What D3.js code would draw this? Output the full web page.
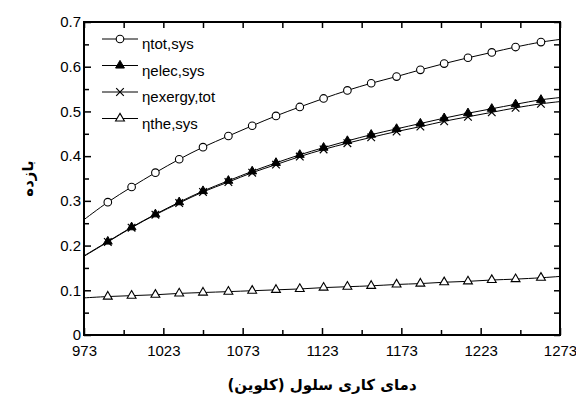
<!DOCTYPE html>
<html>
<head>
<meta charset="utf-8">
<script src="https://cdn.jsdelivr.net/npm/d3@7"></script>
<style>
  html, body { margin: 0; padding: 0; background: #fff; }
  svg { display: block; }
  .tick text { font-family: "Liberation Sans", Arial, sans-serif; }
</style>
</head>
<body>
<svg id="chart" width="576" height="399"></svg>
<script>
// Cell operating temperature (K): curve ends plus the marked sample points
const temps = [973, 988, 1003, 1018, 1033, 1048, 1064, 1079, 1094, 1109, 1124,
               1139, 1154, 1170, 1185, 1200, 1215, 1230, 1245, 1261, 1273];

// Efficiencies
const etaTot    = [0.258, 0.297, 0.331, 0.363, 0.393, 0.420, 0.445, 0.468, 0.490, 0.510, 0.529,
                   0.547, 0.563, 0.578, 0.593, 0.607, 0.620, 0.632, 0.644, 0.655, 0.661];
const etaElec   = [0.177, 0.209, 0.241, 0.270, 0.297, 0.322, 0.345, 0.366, 0.385, 0.403, 0.419,
                   0.434, 0.448, 0.461, 0.473, 0.485, 0.496, 0.506, 0.516, 0.526, 0.531];
const etaExergy = [0.176, 0.208, 0.240, 0.269, 0.295, 0.320, 0.342, 0.363, 0.381, 0.399, 0.415,
                   0.429, 0.442, 0.455, 0.466, 0.478, 0.488, 0.498, 0.508, 0.517, 0.522];
const etaThe    = [0.083, 0.086, 0.088, 0.090, 0.093, 0.095, 0.097, 0.099, 0.101, 0.103, 0.106,
                   0.108, 0.110, 0.113, 0.115, 0.118, 0.120, 0.123, 0.125, 0.128, 0.131];

const xTicks = [973, 1023, 1073, 1123, 1173, 1223, 1273];
const xMinorTicks = [998, 1048, 1098, 1148, 1198, 1248];
const yTicks = [0, 0.1, 0.2, 0.3, 0.4, 0.5, 0.6, 0.7];
const yMinorTicks = [0.05, 0.15, 0.25, 0.35, 0.45, 0.55, 0.65];

const seriesNames = ["ηtot,sys", "ηelec,sys", "ηexergy,tot", "ηthe,sys"];
const seriesValues = [etaTot, etaElec, etaExergy, etaThe];
const seriesMarkers = ["circle", "triangleFilled", "cross", "triangleOpen"];

const xTitle = "دمای کاری سلول (کلوین)";
const yTitle = "بازده";

const svg = d3.select("#chart");
const plotLeft = 84, plotRight = 560, plotTop = 22, plotBottom = 335;

const x = d3.scaleLinear().domain([973, 1273]).range([plotLeft, plotRight]);
const y = d3.scaleLinear().domain([0, 0.7]).range([plotBottom, plotTop]);

const fmtY = d => d === 0 ? "0" : d3.format(".1f")(d);

// Axes: inward ticks on all four sides
function styleAxis(g) {
  g.select(".domain").remove();
  g.selectAll(".tick line").attr("stroke", "#000").attr("stroke-width", 1.5);
  g.selectAll(".tick text").attr("fill", "#000").attr("font-size", 15);
}

svg.append("g").attr("transform", `translate(0,${plotBottom})`)
  .call(d3.axisBottom(x).tickValues(xTicks).tickFormat(d3.format("d")).tickSize(-7).tickPadding(10))
  .call(styleAxis);
svg.append("g").attr("transform", `translate(0,${plotBottom})`)
  .call(d3.axisBottom(x).tickValues(xMinorTicks).tickFormat("").tickSize(-5))
  .call(styleAxis);
svg.append("g").attr("transform", `translate(0,${plotTop})`)
  .call(d3.axisTop(x).tickValues(xTicks.concat(xMinorTicks)).tickFormat("").tickSize(-6))
  .call(styleAxis);

svg.append("g").attr("transform", `translate(${plotLeft},0)`)
  .call(d3.axisLeft(y).tickValues(yTicks).tickFormat(fmtY).tickSize(-7).tickPadding(3))
  .call(styleAxis);
svg.append("g").attr("transform", `translate(${plotLeft},0)`)
  .call(d3.axisLeft(y).tickValues(yMinorTicks).tickFormat("").tickSize(-5))
  .call(styleAxis);
svg.append("g").attr("transform", `translate(${plotRight},0)`)
  .call(d3.axisRight(y).tickValues(yTicks.concat(yMinorTicks)).tickFormat("").tickSize(-6))
  .call(styleAxis);

// Frame
svg.append("rect")
  .attr("x", plotLeft).attr("y", plotTop)
  .attr("width", plotRight - plotLeft).attr("height", plotBottom - plotTop)
  .attr("fill", "none").attr("stroke", "#000").attr("stroke-width", 2);

// Markers
const triUp = d3.symbol().type(d3.symbolTriangle).size(34)();
function drawMarker(g, kind, cx, cy) {
  if (kind === "circle") {
    g.append("circle").attr("cx", cx).attr("cy", cy).attr("r", 3.8)
      .attr("fill", "#fff").attr("stroke", "#000").attr("stroke-width", 1.1);
  } else if (kind === "triangleFilled") {
    g.append("path").attr("d", triUp).attr("transform", `translate(${cx},${cy})`)
      .attr("fill", "#000").attr("stroke", "#000").attr("stroke-width", 1);
  } else if (kind === "triangleOpen") {
    g.append("path").attr("d", triUp).attr("transform", `translate(${cx},${cy})`)
      .attr("fill", "#fff").attr("stroke", "#000").attr("stroke-width", 1.1);
  } else if (kind === "cross") {
    const s = 3.8;
    g.append("path")
      .attr("d", `M${cx - s},${cy - s}L${cx + s},${cy + s}M${cx - s},${cy + s}L${cx + s},${cy - s}`)
      .attr("stroke", "#000").attr("stroke-width", 1.2).attr("fill", "none");
  }
}

const line = d3.line()
  .x(d => x(d[0])).y(d => y(d[1]))
  .curve(d3.curveCatmullRom.alpha(0.5));

const plot = svg.append("g");
seriesValues.forEach((vals) => {
  const pts = temps.map((t, i) => [t, vals[i]]);
  plot.append("path").datum(pts).attr("d", line)
    .attr("fill", "none").attr("stroke", "#000").attr("stroke-width", 1);
});
// Markers on interior sample points, drawn on top of all curves
[3, 0, 2, 1].forEach(si => {
  const vals = seriesValues[si];
  temps.forEach((t, i) => {
    if (i === 0 || i === temps.length - 1) return;
    drawMarker(plot, seriesMarkers[si], x(t), y(vals[i]));
  });
});

// Legend
const legendRowsY = [39, 65.5, 92, 118.5];
const legend = svg.append("g");
seriesNames.forEach((name, i) => {
  const ly = legendRowsY[i];
  legend.append("line").attr("x1", 102).attr("x2", 138).attr("y1", ly).attr("y2", ly)
    .attr("stroke", "#000").attr("stroke-width", 1);
  drawMarker(legend, seriesMarkers[i], 120, ly);
  legend.append("text").attr("x", 142).attr("y", ly + 10)
    .attr("font-family", "Liberation Sans, Arial, sans-serif").attr("font-size", 15)
    .attr("fill", "#000").text(name);
});

// Axis titles
svg.append("text")
  .attr("x", (plotLeft + plotRight) / 2).attr("y", 390)
  .attr("text-anchor", "middle").attr("direction", "rtl")
  .attr("font-family", "DejaVu Sans, sans-serif").attr("font-weight", "bold").attr("font-size", 15)
  .attr("fill", "#000").text(xTitle);

svg.append("text")
  .attr("transform", `translate(33,${(plotTop + plotBottom) / 2}) rotate(-90)`)
  .attr("text-anchor", "middle").attr("direction", "rtl")
  .attr("font-family", "DejaVu Sans, sans-serif").attr("font-weight", "bold").attr("font-size", 15)
  .attr("fill", "#000").text(yTitle);
</script>
</body>
</html>
